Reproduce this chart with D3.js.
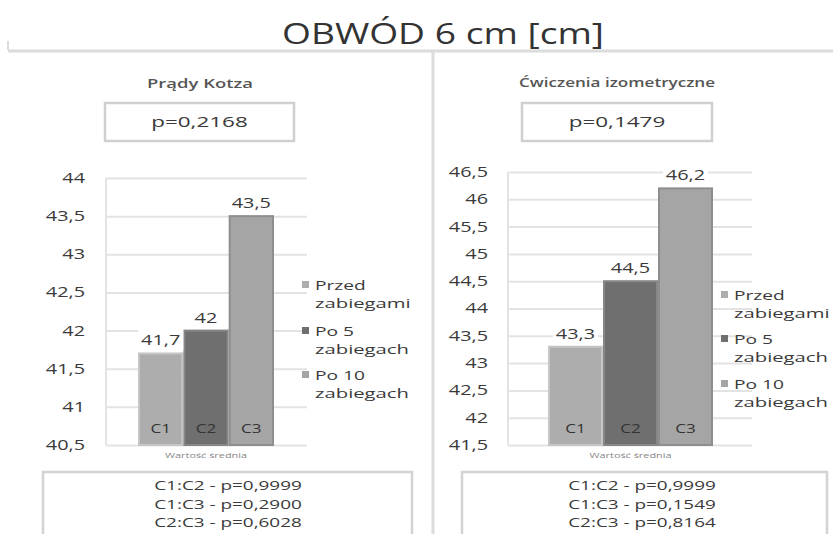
<!DOCTYPE html>
<html>
<head>
<meta charset="utf-8">
<script src="https://cdn.jsdelivr.net/npm/d3@7"></script>
<style>
  html, body { margin: 0; padding: 0; background: #fff; }
  svg { display: block; }
  text { font-family: "Open Sans", "Noto Sans", sans-serif; fill: #3a3a3a; }
</style>
</head>
<body>
<svg id="chart" width="833" height="534"></svg>
<script>
// Mean circumference 6 cm above the patella, three measurements per method
const groups = ["C1", "C2", "C3"];
const seriesNames = ["Przed zabiegami", "Po 5 zabiegach", "Po 10 zabiegach"];
const legendLines = [["Przed", "zabiegami"], ["Po 5", "zabiegach"], ["Po 10", "zabiegach"]];

const kotzValues = [41.7, 42, 43.5];
const kotzTicks = [40.5, 41, 41.5, 42, 42.5, 43, 43.5, 44];
const kotzP = "p=0,2168";
const kotzPairs = ["C1:C2 - p=0,9999", "C1:C3 - p=0,2900", "C2:C3 - p=0,6028"];

const izoValues = [43.3, 44.5, 46.2];
const izoTicks = [41.5, 42, 42.5, 43, 43.5, 44, 44.5, 45, 45.5, 46, 46.5];
const izoP = "p=0,1479";
const izoPairs = ["C1:C2 - p=0,9999", "C1:C3 - p=0,1549", "C2:C3 - p=0,8164"];

const fills = ["#adadad", "#6f6f6f", "#a5a5a5"];
const strokes = ["#c6c6c6", "#878787", "#8e8e8e"];
const fmt = v => String(v).replace(".", ",");

// the layout uses a horizontally widened type; stretch glyphs by a factor
const WIDE = 1.42;
function widen(sel, k) {
  sel.each(function () {
    const w = this.getComputedTextLength();
    this.setAttribute("textLength", w * k);
    this.setAttribute("lengthAdjust", "spacingAndGlyphs");
  });
  return sel;
}
function fitTo(sel, width) {
  sel.attr("textLength", width).attr("lengthAdjust", "spacingAndGlyphs");
  return sel;
}

const svg = d3.select("#chart");

// Main title and separators
fitTo(svg.append("text")
  .attr("x", 443).attr("y", 44)
  .attr("text-anchor", "middle")
  .attr("font-size", 29)
  .style("fill", "#333")
  .text("OBWÓD 6 cm [cm]"), 322);
svg.append("line").attr("x1", 8).attr("x2", 833).attr("y1", 51).attr("y2", 51)
  .attr("stroke", "#dcdcdc").attr("stroke-width", 3);
svg.append("line").attr("x1", 8).attr("x2", 8).attr("y1", 41).attr("y2", 50)
  .attr("stroke", "#dcdcdc").attr("stroke-width", 2);
svg.append("line").attr("x1", 433).attr("x2", 433).attr("y1", 52).attr("y2", 534)
  .attr("stroke", "#dcdcdc").attr("stroke-width", 3);

function panel(cfg) {
  const g = svg.append("g");

  // method name
  fitTo(g.append("text")
    .attr("x", cfg.cx).attr("y", cfg.subY)
    .attr("text-anchor", "middle")
    .attr("font-weight", 600)
    .attr("font-size", 12.5)
    .style("fill", "#555")
    .text(cfg.subtitle), cfg.subLen);

  // overall p-value box
  g.append("rect")
    .attr("x", cfg.pBox[0]).attr("y", 103)
    .attr("width", cfg.pBox[1] - cfg.pBox[0]).attr("height", 38)
    .attr("fill", "#fff").attr("stroke", "#cfcfcf").attr("stroke-width", 2.5);
  widen(g.append("text")
    .attr("x", (cfg.pBox[0] + cfg.pBox[1]) / 2).attr("y", 127)
    .attr("text-anchor", "middle").attr("font-size", 14.5)
    .text(cfg.p), 1.55);

  const y = d3.scaleLinear().domain(cfg.domain).range([cfg.yBottom, cfg.yTop]);
  const x = d3.scaleBand().domain(groups).range(cfg.barRange).padding(0);

  // gridlines
  const grid = g.append("g")
    .attr("transform", `translate(${cfg.plotX[0]},0)`)
    .call(d3.axisLeft(y).tickValues(cfg.ticks).tickSize(-(cfg.plotX[1] - cfg.plotX[0])).tickFormat(""));
  grid.select(".domain").remove();
  grid.selectAll(".tick line").attr("stroke", "#e3e3e3").attr("stroke-width", 2);

  // left frame line of plot area
  g.append("line")
    .attr("x1", cfg.plotX[0]).attr("x2", cfg.plotX[0])
    .attr("y1", cfg.yTop).attr("y2", cfg.yBottom)
    .attr("stroke", "#e3e3e3").attr("stroke-width", 2);

  // tick labels
  const ax = g.append("g")
    .attr("transform", `translate(${cfg.labelX},0)`)
    .call(d3.axisLeft(y).tickValues(cfg.ticks).tickSize(0).tickPadding(0).tickFormat(fmt));
  ax.select(".domain").remove();
  widen(ax.selectAll("text")
    .attr("font-size", 14)
    .attr("font-family", "Open Sans, sans-serif")
    .style("fill", "#3a3a3a"), WIDE);

  // bars
  g.selectAll(".bar").data(cfg.values).enter().append("rect")
    .attr("x", (d, i) => x(groups[i]) + 1)
    .attr("y", d => y(d))
    .attr("width", x.bandwidth() - 2)
    .attr("height", d => cfg.yBottom - y(d))
    .attr("fill", (d, i) => fills[i])
    .attr("stroke", (d, i) => strokes[i])
    .attr("stroke-width", 2);

  // value labels with white background, group names inside the bars
  cfg.values.forEach((v, i) => {
    const cx = x(groups[i]) + x.bandwidth() / 2;
    const bg = g.append("rect").attr("fill", "#fff");
    const lbl = widen(g.append("text")
      .attr("x", cx).attr("y", y(v) - 8)
      .attr("text-anchor", "middle").attr("font-size", 14)
      .text(fmt(v)), WIDE);
    const w = +lbl.attr("textLength") + 6;
    bg.attr("x", cx - w / 2).attr("y", y(v) - 24)
      .attr("width", w).attr("height", 21);
    widen(g.append("text")
      .attr("x", cx).attr("y", cfg.yBottom - 12)
      .attr("text-anchor", "middle").attr("font-size", 12)
      .style("fill", "#333")
      .text(groups[i]), WIDE);
  });

  // category axis caption
  fitTo(g.append("text")
    .attr("x", (cfg.barRange[0] + cfg.barRange[1]) / 2).attr("y", cfg.yBottom + 13)
    .attr("text-anchor", "middle").attr("font-size", 7)
    .style("fill", "#888")
    .text("Wartość średnia"), 82);

  // legend
  seriesNames.forEach((name, i) => {
    const ly = cfg.legendY[i];
    g.append("rect")
      .attr("x", cfg.legendX).attr("y", ly - 4)
      .attr("width", 7).attr("height", 7)
      .attr("fill", fills[i]);
    widen(g.append("text")
      .attr("x", cfg.legendX + 13).attr("y", ly + 5)
      .attr("font-size", 13.5)
      .text(legendLines[i][0]), WIDE);
    widen(g.append("text")
      .attr("x", cfg.legendX + 13).attr("y", ly + 23)
      .attr("font-size", 13.5)
      .text(legendLines[i][1]), 1.5);
  });

  // pairwise comparison box
  g.append("rect")
    .attr("x", cfg.pairBox[0]).attr("y", 472)
    .attr("width", cfg.pairBox[1] - cfg.pairBox[0]).attr("height", 70)
    .attr("fill", "#fff").attr("stroke", "#d3d3d3").attr("stroke-width", 2.5);
  cfg.pairs.forEach((t, i) => {
    widen(g.append("text")
      .attr("x", cfg.pairCx).attr("y", 490 + i * 18.5)
      .attr("text-anchor", "middle").attr("font-size", 13.5)
      .text(t), 1.4);
  });
}

panel({
  subtitle: "Prądy Kotza", cx: 200, subY: 88, subLen: 106,
  p: kotzP, pBox: [105, 294],
  domain: [40.5, 44], ticks: kotzTicks, yTop: 178, yBottom: 445,
  plotX: [106, 307], labelX: 85, barRange: [138, 274],
  values: kotzValues,
  legendX: 302, legendY: [285, 331, 375],
  pairBox: [43, 412], pairCx: 228, pairs: kotzPairs
});

panel({
  subtitle: "Ćwiczenia izometryczne", cx: 617, subY: 87, subLen: 196,
  p: izoP, pBox: [522, 712],
  domain: [41.5, 46.5], ticks: izoTicks, yTop: 172, yBottom: 445,
  plotX: [508, 752], labelX: 488, barRange: [548, 713],
  values: izoValues,
  legendX: 721, legendY: [295, 339, 384],
  pairBox: [462, 827], pairCx: 642, pairs: izoPairs
});
</script>
</body>
</html>
